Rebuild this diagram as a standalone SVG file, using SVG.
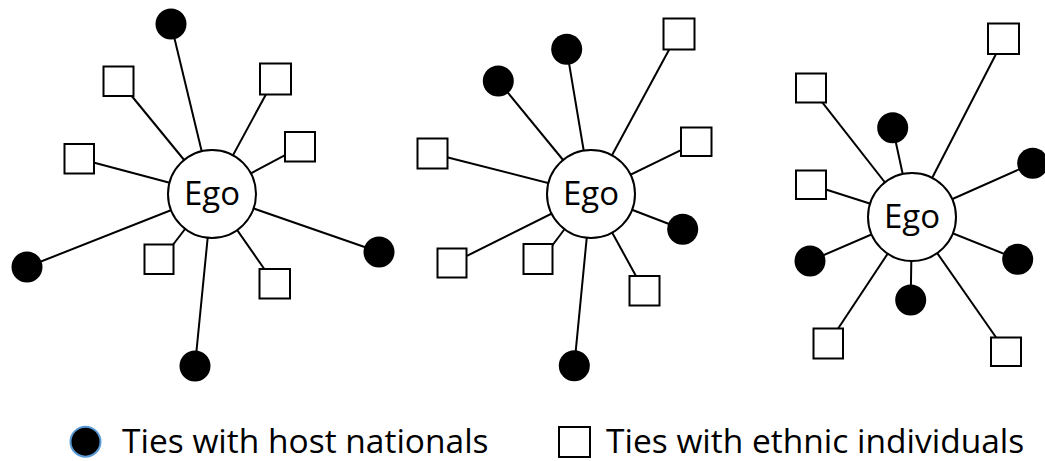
<svg xmlns="http://www.w3.org/2000/svg" width="1045" height="461" viewBox="0 0 1045 461">
  <style>
    .tie { stroke: #000; stroke-width: 2; fill: none; }
    .ego { fill: #fff; stroke: #000; stroke-width: 2; }
    .host { fill: #000; }
    .ethnic { fill: #fff; stroke: #000; stroke-width: 2; }
    .ego-label { font-family: "Open Sans", "Noto Sans", sans-serif; font-size: 33px; fill: #000; text-anchor: middle; }
    .legend-label { font-family: "Open Sans", "Noto Sans", sans-serif; font-size: 33.5px; fill: #000; }
  </style>
  <rect width="1045" height="461" fill="#fff"/>

  <!-- ties: each runs from the alter to the ego centre, hidden under the ego disc -->
  <g id="connectors">
    <!-- network 1 -->
    <line class="tie" x1="171" y1="24" x2="212" y2="194"/>
    <line class="tie" x1="130.5" y1="94.5" x2="212" y2="194"/>
    <line class="tie" x1="266.7" y1="93" x2="212" y2="194"/>
    <line class="tie" x1="286.5" y1="154.3" x2="212" y2="194"/>
    <line class="tie" x1="92.5" y1="162.3" x2="212" y2="194"/>
    <line class="tie" x1="27" y1="267" x2="212" y2="194"/>
    <line class="tie" x1="172" y1="246" x2="212" y2="194"/>
    <line class="tie" x1="195" y1="366" x2="212" y2="194"/>
    <line class="tie" x1="265" y1="270" x2="212" y2="194"/>
    <line class="tie" x1="379" y1="252" x2="212" y2="194"/>
    <!-- network 2 -->
    <line class="tie" x1="566.7" y1="49.3" x2="591" y2="194"/>
    <line class="tie" x1="498.3" y1="81" x2="591" y2="194"/>
    <line class="tie" x1="670" y1="48" x2="591" y2="194"/>
    <line class="tie" x1="682.5" y1="149.3" x2="591" y2="194"/>
    <line class="tie" x1="682.7" y1="229.3" x2="591" y2="194"/>
    <line class="tie" x1="446" y1="157" x2="591" y2="194"/>
    <line class="tie" x1="465.3" y1="256.7" x2="591" y2="194"/>
    <line class="tie" x1="551.5" y1="246.5" x2="591" y2="194"/>
    <line class="tie" x1="574.3" y1="365.7" x2="591" y2="194"/>
    <line class="tie" x1="636.8" y1="277.5" x2="591" y2="194"/>
    <!-- network 3 -->
    <line class="tie" x1="996.8" y1="52.5" x2="912" y2="217"/>
    <line class="tie" x1="821.5" y1="101.3" x2="912" y2="217"/>
    <line class="tie" x1="892.7" y1="127.7" x2="912" y2="217"/>
    <line class="tie" x1="1032.7" y1="163.3" x2="912" y2="217"/>
    <line class="tie" x1="824.3" y1="189" x2="912" y2="217"/>
    <line class="tie" x1="810" y1="261" x2="912" y2="217"/>
    <line class="tie" x1="910.7" y1="300" x2="912" y2="217"/>
    <line class="tie" x1="1017.7" y1="259.3" x2="912" y2="217"/>
    <line class="tie" x1="837.3" y1="329.7" x2="912" y2="217"/>
    <line class="tie" x1="997" y1="338.7" x2="912" y2="217"/>
  </g>

  <!-- network 1 -->
  <g id="ego-1">
    <circle class="ego" cx="212" cy="194" r="44"/>
    <text class="ego-label" x="212" y="205">Ego</text>
  </g>
  <g id="net1-host-top"><circle class="host" cx="171" cy="24" r="15.5"/></g>
  <g id="net1-host-left"><circle class="host" cx="27" cy="267" r="15.5"/></g>
  <g id="net1-host-bottom"><circle class="host" cx="195" cy="366" r="15.5"/></g>
  <g id="net1-host-right"><circle class="host" cx="379" cy="252" r="15.5"/></g>
  <g id="net1-ethnic-upper-left"><rect class="ethnic" x="103.5" y="66.5" width="30" height="29.5"/></g>
  <g id="net1-ethnic-upper-right"><rect class="ethnic" x="260" y="63.5" width="31" height="31"/></g>
  <g id="net1-ethnic-right"><rect class="ethnic" x="285" y="132" width="30" height="29.5"/></g>
  <g id="net1-ethnic-left"><rect class="ethnic" x="64.5" y="144" width="29.5" height="29.5"/></g>
  <g id="net1-ethnic-lower-left"><rect class="ethnic" x="144.5" y="244.5" width="29" height="29.5"/></g>
  <g id="net1-ethnic-lower-right"><rect class="ethnic" x="259.5" y="269" width="30.5" height="29.5"/></g>

  <!-- network 2 -->
  <g id="ego-2">
    <circle class="ego" cx="591" cy="194" r="44"/>
    <text class="ego-label" x="591" y="205">Ego</text>
  </g>
  <g id="net2-host-top"><circle class="host" cx="566.7" cy="49.3" r="15.5"/></g>
  <g id="net2-host-upper-left"><circle class="host" cx="498.3" cy="81" r="15.5"/></g>
  <g id="net2-host-right"><circle class="host" cx="682.7" cy="229.3" r="15.5"/></g>
  <g id="net2-host-bottom"><circle class="host" cx="574.3" cy="365.7" r="15.5"/></g>
  <g id="net2-ethnic-top-right"><rect class="ethnic" x="663.5" y="18.5" width="31" height="31"/></g>
  <g id="net2-ethnic-right"><rect class="ethnic" x="681" y="127.5" width="30.5" height="28.5"/></g>
  <g id="net2-ethnic-left"><rect class="ethnic" x="417.5" y="138.5" width="30" height="30"/></g>
  <g id="net2-ethnic-lower-left"><rect class="ethnic" x="437.5" y="248.5" width="29" height="29"/></g>
  <g id="net2-ethnic-lower-mid"><rect class="ethnic" x="523.5" y="244" width="29" height="30"/></g>
  <g id="net2-ethnic-lower-right"><rect class="ethnic" x="629.5" y="276" width="30" height="29.5"/></g>

  <!-- network 3 -->
  <g id="ego-3">
    <circle class="ego" cx="912" cy="217" r="44"/>
    <text class="ego-label" x="912" y="228">Ego</text>
  </g>
  <g id="net3-host-upper"><circle class="host" cx="892.7" cy="127.7" r="15.5"/></g>
  <g id="net3-host-right-upper"><circle class="host" cx="1032.7" cy="163.3" r="15.5"/></g>
  <g id="net3-host-left"><circle class="host" cx="810" cy="261" r="15.5"/></g>
  <g id="net3-host-bottom"><circle class="host" cx="910.7" cy="300" r="15.5"/></g>
  <g id="net3-host-right-lower"><circle class="host" cx="1017.7" cy="259.3" r="15.5"/></g>
  <g id="net3-ethnic-top-right"><rect class="ethnic" x="988" y="23.5" width="31" height="30.5"/></g>
  <g id="net3-ethnic-upper-left"><rect class="ethnic" x="796" y="73.5" width="30" height="29"/></g>
  <g id="net3-ethnic-left"><rect class="ethnic" x="796" y="170.5" width="30" height="28.5"/></g>
  <g id="net3-ethnic-lower-left"><rect class="ethnic" x="813.5" y="328.5" width="29.5" height="30"/></g>
  <g id="net3-ethnic-lower-right"><rect class="ethnic" x="991" y="337.5" width="30" height="28.5"/></g>

  <!-- legend -->
  <g id="legend-host">
    <circle cx="85.5" cy="441.7" r="15" fill="#000" stroke="#5b9bd5" stroke-width="2"/>
    <text class="legend-label" x="122" y="452.5">Ties with host nationals</text>
  </g>
  <g id="legend-ethnic">
    <rect class="ethnic" x="559" y="427" width="31" height="30"/>
    <text class="legend-label" x="606" y="452.5">Ties with ethnic individuals</text>
  </g>
</svg>
